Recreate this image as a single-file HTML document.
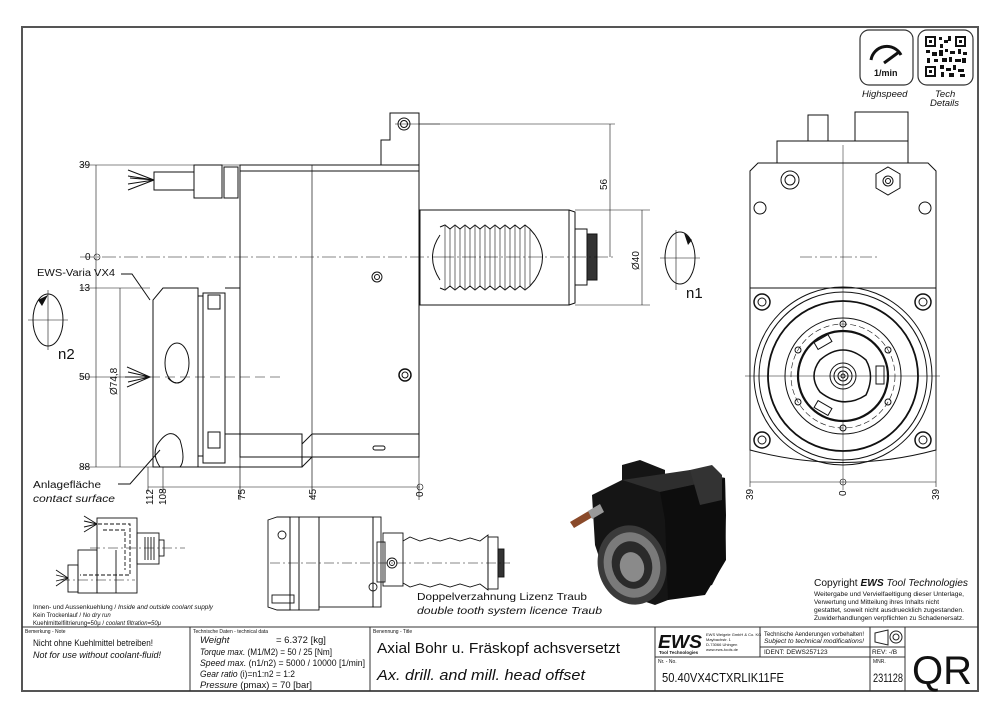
<!DOCTYPE html>
<html><head><meta charset="utf-8"><style>
html,body{margin:0;padding:0;background:#fff}
svg{display:block}
text{font-family:"Liberation Sans",sans-serif;fill:#111}
</style></head><body>
<svg width="1000" height="715" viewBox="0 0 1000 715" xmlns="http://www.w3.org/2000/svg">
<rect width="1000" height="715" fill="#fff"/>
<rect x="22" y="27" width="956" height="664" fill="none" stroke="#555" stroke-width="2"/>
<g stroke="#333" stroke-width="1" fill="none">
<line x1="22" y1="627" x2="978" y2="627"/>
<line x1="190" y1="627" x2="190" y2="691"/>
<line x1="370" y1="627" x2="370" y2="691"/>
<line x1="655" y1="627" x2="655" y2="691"/>
<line x1="760" y1="627" x2="760" y2="657"/>
<line x1="870" y1="627" x2="870" y2="691"/>
<line x1="905" y1="627" x2="905" y2="691"/>
<line x1="655" y1="657" x2="905" y2="657"/>
<line x1="760" y1="647" x2="905" y2="647"/>
</g>
<text x="25" y="633" font-size="5">Bemerkung - Note</text>
<text x="33" y="646" font-size="9" textLength="120" lengthAdjust="spacingAndGlyphs">Nicht ohne Kuehlmittel betreiben!</text>
<text x="33" y="658" font-size="9" font-style="italic" textLength="128" lengthAdjust="spacingAndGlyphs">Not for use without coolant-fluid!</text>
<text x="193" y="633" font-size="5">Technische Daten - technical data</text>
<g font-size="9.5">
<text x="200" y="643" font-style="italic">Weight</text><text x="276" y="643">= 6.372 [kg]</text>
<text x="200" y="655" textLength="132" lengthAdjust="spacingAndGlyphs"><tspan font-style="italic">Torque max.</tspan> (M1/M2) = 50 / 25 [Nm]</text>
<text x="200" y="666" textLength="165" lengthAdjust="spacingAndGlyphs"><tspan font-style="italic">Speed max.</tspan> (n1/n2) = 5000 / 10000 [1/min]</text>
<text x="200" y="677" textLength="95" lengthAdjust="spacingAndGlyphs"><tspan font-style="italic">Gear ratio</tspan> (i)=n1:n2 = 1:2</text>
<text x="200" y="688" textLength="112" lengthAdjust="spacingAndGlyphs"><tspan font-style="italic">Pressure</tspan>    (pmax) = 70 [bar]</text>
</g>
<text x="373" y="633" font-size="5">Benennung - Title</text>
<text x="377" y="653" font-size="15" textLength="243" lengthAdjust="spacingAndGlyphs">Axial Bohr u. Fräskopf achsversetzt</text>
<text x="377" y="680" font-size="15" font-style="italic" textLength="208" lengthAdjust="spacingAndGlyphs">Ax. drill. and mill. head offset</text>
<text x="658" y="663" font-size="5">Nr. - No.</text>
<text x="662" y="682" font-size="13" textLength="122" lengthAdjust="spacingAndGlyphs">50.40VX4CTXRLIK11FE</text>
<text x="873" y="663" font-size="5">MNR.</text>
<text x="873" y="682" font-size="12" textLength="30" lengthAdjust="spacingAndGlyphs">231128</text>
<text x="764" y="636" font-size="6.5" textLength="100" lengthAdjust="spacingAndGlyphs">Technische Aenderungen vorbehalten!</text>
<text x="764" y="643" font-size="6.5" font-style="italic" textLength="100" lengthAdjust="spacingAndGlyphs">Subject to technical modifications!</text>
<text x="764" y="654" font-size="6.5">IDENT:  DEWS257123</text>
<text x="872" y="654" font-size="6.5">REV: -/B</text>
<text x="658" y="648" font-size="18" font-weight="bold" font-style="italic" textLength="44" lengthAdjust="spacingAndGlyphs">EWS</text>
<text x="659" y="654" font-size="4.5" font-weight="bold">Tool Technologies</text>
<text x="706" y="636" font-size="4">EWS Weigele GmbH &amp; Co. KG</text>
<text x="706" y="641" font-size="4">Maybachstr. 1</text>
<text x="706" y="646" font-size="4">D-73066 Uhingen</text>
<text x="706" y="651" font-size="4">www.ews-tools.de</text>
<g stroke="#222" fill="none" stroke-width="1"><path d="M875 633 L888 630 L888 645 L875 642 Z"/><circle cx="896" cy="637" r="6"/><circle cx="896" cy="637" r="3"/></g>
<text x="912" y="684" font-size="40" textLength="60" lengthAdjust="spacingAndGlyphs">QR</text>

<rect x="860" y="30" width="53" height="55" rx="9" fill="none" stroke="#333" stroke-width="1.2"/>
<path d="M871 60 A16 16 0 0 1 901 55" fill="none" stroke="#111" stroke-width="3"/>
<path d="M884 63 L899 52" stroke="#111" stroke-width="3"/>
<text x="874" y="76" font-size="9" font-weight="bold">1/min</text>
<rect x="918" y="30" width="55" height="55" rx="9" fill="none" stroke="#333" stroke-width="1.2"/>
<g fill="#111">
<rect x="925" y="36" width="11" height="11"/><rect x="955" y="36" width="11" height="11"/><rect x="925" y="66" width="11" height="11"/>
<rect x="927" y="38" width="7" height="7" fill="#fff"/><rect x="957" y="38" width="7" height="7" fill="#fff"/><rect x="927" y="68" width="7" height="7" fill="#fff"/>
<rect x="929" y="40" width="3" height="3"/><rect x="959" y="40" width="3" height="3"/><rect x="929" y="70" width="3" height="3"/>
<rect x="939" y="37" width="3" height="3"/><rect x="944" y="40" width="4" height="3"/><rect x="940" y="44" width="3" height="4"/><rect x="948" y="36" width="3" height="5"/>
<rect x="926" y="50" width="4" height="3"/><rect x="932" y="52" width="5" height="4"/><rect x="939" y="50" width="4" height="6"/><rect x="945" y="49" width="3" height="3"/><rect x="950" y="51" width="5" height="3"/><rect x="958" y="49" width="3" height="5"/><rect x="963" y="52" width="4" height="3"/>
<rect x="927" y="58" width="3" height="5"/><rect x="934" y="59" width="4" height="3"/><rect x="942" y="58" width="5" height="4"/><rect x="949" y="57" width="3" height="5"/><rect x="955" y="59" width="6" height="3"/><rect x="962" y="58" width="4" height="5"/>
<rect x="940" y="65" width="4" height="4"/><rect x="946" y="68" width="5" height="3"/><rect x="953" y="65" width="3" height="5"/><rect x="958" y="69" width="6" height="3"/><rect x="941" y="72" width="3" height="5"/><rect x="949" y="73" width="5" height="4"/><rect x="960" y="74" width="5" height="3"/>
</g>
<text x="862" y="97" font-size="9.5" font-style="italic">Highspeed</text>
<text x="935" y="97" font-size="9.5" font-style="italic">Tech</text>
<text x="930" y="106" font-size="9.5" font-style="italic">Details</text>

<g stroke="#111" stroke-width="1" fill="none">
<line x1="80" y1="165" x2="240" y2="165" stroke-width="0.6"/>
<line x1="80" y1="257" x2="440" y2="257" stroke-width="0.6" stroke-dasharray="14 3 2 3"/>
<line x1="80" y1="288" x2="150" y2="288" stroke-width="0.6"/>
<line x1="80" y1="377" x2="125" y2="377" stroke-width="0.6"/>
<line x1="80" y1="467" x2="155" y2="467" stroke-width="0.6"/>
<line x1="96" y1="165" x2="96" y2="467" stroke-width="0.6"/>
<line x1="120" y1="288" x2="120" y2="467" stroke-width="0.6"/>
<circle cx="97" cy="257" r="3" stroke-width="0.6"/>
<path d="M381 165 L381 140 L390 140 L390 113 L419 113 L419 165"/>
<circle cx="404" cy="124" r="6"/><circle cx="404" cy="124" r="3.5"/>
<line x1="395" y1="124" x2="440" y2="124" stroke-width="0.5"/>
<line x1="419" y1="124" x2="615" y2="124" stroke-width="0.6"/>
<rect x="240" y="165" width="179" height="292"/>
<line x1="240" y1="171" x2="419" y2="171"/>
<line x1="312" y1="165" x2="312" y2="500" stroke-width="0.7"/>
<line x1="240" y1="165" x2="240" y2="500" stroke-width="0.7"/>
<line x1="419" y1="165" x2="419" y2="500" stroke-width="0.6"/>
<line x1="312" y1="434" x2="419" y2="434"/>
<rect x="373" y="446" width="12" height="4" rx="2"/>
<circle cx="377" cy="277" r="5"/><circle cx="377" cy="277" r="2.5"/>
<circle cx="405" cy="375" r="6" stroke-width="1.5"/><circle cx="405" cy="375" r="3"/>
<rect x="154" y="172" width="40" height="18"/>
<rect x="194" y="165" width="28" height="33"/>
<rect x="224" y="167" width="14" height="31"/>
<path d="M154 180 L128 170 M154 180 L128 176 M154 180 L128 184 M154 180 L128 190 M154 180 L130 178"/>
<path d="M153 467 L153 300 L163 288 L198 288 L198 467 Z"/>
<path d="M198 296 L203 296 L203 456 L198 456"/>
<rect x="203" y="293" width="22" height="170"/>
<rect x="208" y="295" width="12" height="14"/>
<rect x="208" y="432" width="12" height="16"/>
<path d="M225 288 L240 288 M225 434 L302 434 L302 467 L240 467 M302 467 L312 457"/>
<path d="M312 434 L302 444"/>
<line x1="153" y1="467" x2="302" y2="467"/>
<ellipse cx="177" cy="363" rx="12" ry="20"/>
<path d="M168 378 Q177 388 185 378"/>
<path d="M157 445 Q170 425 180 440 Q186 460 180 467 L160 467 Q152 455 157 445 Z"/>
<path d="M125 377 L150 377 M127 367 L150 377 L127 387 M128 372 L150 377 L128 382"/>
<line x1="150" y1="377" x2="285" y2="377" stroke-width="0.6" stroke-dasharray="10 5"/>
<path d="M121 274 L132 274 L150 300"/>
<path d="M118 484 L130 484 L160 450"/>
<line x1="148" y1="487" x2="420" y2="487" stroke-width="0.6"/>
<line x1="148" y1="467" x2="148" y2="492" stroke-width="0.6"/>
<line x1="163" y1="467" x2="163" y2="492" stroke-width="0.6"/>
<circle cx="420" cy="487" r="3" stroke-width="0.6"/>
<ellipse cx="48" cy="320" rx="15" ry="26"/>
<line x1="28" y1="320" x2="68" y2="320" stroke-width="0.6"/>
<line x1="48" y1="290" x2="48" y2="350" stroke-width="0.6"/>
<rect x="420" y="210" width="149" height="95"/>
<path d="M569 210 L575 212 L575 303 L569 305"/>
<path d="M440 235 Q425 257 440 280 M535 235 Q550 257 535 280"/>
<path d="M440 227 L445 225 L450 229 L455 225 L460 229 L465 225 L470 229 L475 225 L480 229 L485 225 L490 229 L495 225 L500 229 L505 225 L510 229 L515 225 L520 229 L525 225 L530 229 L535 235"/>
<path d="M440 288 L445 290 L450 286 L455 290 L460 286 L465 290 L470 286 L475 290 L480 286 L485 290 L490 286 L495 290 L500 286 L505 290 L510 286 L515 290 L520 286 L525 290 L530 286 L535 280"/>
<g stroke-width="0.6"><path d="M445 226 V289 M450 229 V286 M455 226 V289 M460 229 V286 M465 226 V289 M470 229 V286 M475 226 V289 M480 229 V286 M485 226 V289 M490 229 V286 M495 226 V289 M500 229 V286 M505 226 V289 M510 229 V286 M515 226 V289 M520 229 V286 M525 226 V289 M530 229 V286"/></g>
<rect x="575" y="229" width="12" height="56"/>
<rect x="587" y="234" width="10" height="46" fill="#333"/>
<line x1="440" y1="257" x2="615" y2="257" stroke-width="0.6" stroke-dasharray="14 3 2 3"/>
<line x1="610" y1="124" x2="610" y2="257" stroke-width="0.6"/>
<line x1="575" y1="210" x2="650" y2="210" stroke-width="0.6"/>
<line x1="575" y1="305" x2="650" y2="305" stroke-width="0.6"/>
<line x1="642" y1="210" x2="642" y2="305" stroke-width="0.6"/>
<ellipse cx="680" cy="258" rx="15" ry="26"/>
<line x1="660" y1="258" x2="700" y2="258" stroke-width="0.6"/>
<line x1="676" y1="230" x2="676" y2="290" stroke-width="0.6"/>
</g>
<path d="M38 300 L48 295 L42 306 Z" fill="#111"/>
<path d="M684 233 L692 240 L688 245 Z" fill="#111"/>
<g font-size="10">
<text x="79" y="168">39</text><text x="85" y="260">0</text><text x="79" y="291">13</text><text x="79" y="380">50</text><text x="79" y="470">88</text>
<text x="37" y="276" textLength="78" lengthAdjust="spacingAndGlyphs">EWS-Varia VX4</text>
<text x="33" y="488" textLength="68" lengthAdjust="spacingAndGlyphs">Anlagefläche</text>
<text x="33" y="502" font-style="italic" textLength="82" lengthAdjust="spacingAndGlyphs">contact surface</text>
<text transform="translate(117,395) rotate(-90)">Ø74,8</text>
<text transform="translate(153,505) rotate(-90)">112</text>
<text transform="translate(166,505) rotate(-90)">108</text>
<text transform="translate(245,500) rotate(-90)">75</text>
<text transform="translate(316,500) rotate(-90)">45</text>
<text transform="translate(423,497) rotate(-90)">0</text>
<text transform="translate(607,190) rotate(-90)">56</text>
<text transform="translate(639,270) rotate(-90)">Ø40</text>
</g>
<text x="58" y="359" font-size="15">n2</text>
<text x="686" y="298" font-size="15">n1</text>

<g stroke="#111" stroke-width="1" fill="none">
<rect x="808" y="115" width="20" height="26"/>
<rect x="855" y="112" width="53" height="29"/>
<rect x="777" y="141" width="131" height="22"/>
<path d="M750 450 L750 171 L758 163 L928 163 L936 171 L936 450 Q843 475 750 450 Z"/>
<line x1="750" y1="288" x2="936" y2="288"/>
<line x1="843" y1="145" x2="843" y2="490" stroke-width="0.5"/>
<line x1="800" y1="257" x2="880" y2="257" stroke-width="0.5" stroke-dasharray="12 3 2 3"/>
<line x1="745" y1="376" x2="940" y2="376" stroke-width="0.5"/>
<circle cx="790" cy="180" r="9"/><circle cx="790" cy="180" r="5"/>
<path d="M888 167 L900 174 L900 188 L888 195 L876 188 L876 174 Z"/><circle cx="888" cy="181" r="5"/><circle cx="888" cy="181" r="2.5"/>
<circle cx="760" cy="208" r="6"/><circle cx="925" cy="208" r="6"/>
<circle cx="762" cy="302" r="8" stroke-width="1.5"/><circle cx="762" cy="302" r="4"/>
<circle cx="923" cy="302" r="8" stroke-width="1.5"/><circle cx="923" cy="302" r="4"/>
<circle cx="762" cy="440" r="8" stroke-width="1.5"/><circle cx="762" cy="440" r="4"/>
<circle cx="923" cy="440" r="8" stroke-width="1.5"/><circle cx="923" cy="440" r="4"/>
<circle cx="843" cy="376" r="89"/>
<circle cx="843" cy="376" r="84"/>
<circle cx="843" cy="376" r="75" stroke-width="1.8"/>
<circle cx="843" cy="376" r="58"/>
<circle cx="843" cy="376" r="52" stroke-dasharray="6 3" stroke-width="0.6"/>
<circle cx="843" cy="376" r="45" stroke-width="2.2"/>
<path d="M820 360 Q843 340 866 360 Q875 376 866 395 Q843 410 820 392 Q808 376 820 360 Z" stroke-width="1.5"/>
<circle cx="843" cy="376" r="13"/><circle cx="843" cy="376" r="9"/><circle cx="843" cy="376" r="5"/><circle cx="843" cy="376" r="2"/>
<circle cx="843" cy="324" r="3"/><circle cx="843" cy="428" r="3"/>
<circle cx="798" cy="350" r="3"/><circle cx="888" cy="350" r="3"/><circle cx="798" cy="402" r="3"/><circle cx="888" cy="402" r="3"/>
<rect x="815" y="338" width="16" height="8" transform="rotate(-30 823 342)"/>
<rect x="815" y="404" width="16" height="8" transform="rotate(30 823 408)"/>
<rect x="876" y="366" width="8" height="18"/>
<line x1="750" y1="482" x2="936" y2="482" stroke-width="0.6"/>
<line x1="750" y1="450" x2="750" y2="487" stroke-width="0.6"/>
<line x1="936" y1="450" x2="936" y2="487" stroke-width="0.6"/>
<circle cx="843" cy="482" r="3" stroke-width="0.6"/>
</g>
<g font-size="10">
<text transform="translate(753,500) rotate(-90)">39</text>
<text transform="translate(846,496) rotate(-90)">0</text>
<text transform="translate(939,500) rotate(-90)">39</text>
</g>

<g stroke="#111" stroke-width="0.9" fill="none">
<rect x="97" y="518" width="40" height="75"/>
<rect x="78" y="550" width="19" height="43"/>
<rect x="68" y="565" width="10" height="27"/>
<rect x="137" y="533" width="22" height="31"/>
<rect x="159" y="540" width="5" height="16"/>
<line x1="116" y1="550" x2="116" y2="593"/>
<path d="M98 524 L130 524 L130 575 L80 575" stroke-dasharray="4 2"/>
<path d="M103 530 L125 530 L125 570" stroke-dasharray="4 2"/>
<line x1="90" y1="548" x2="185" y2="548" stroke-dasharray="10 3 2 3" stroke-width="0.6"/>
<line x1="60" y1="580" x2="135" y2="580" stroke-dasharray="10 3 2 3" stroke-width="0.6"/>
<path d="M97 524 L84 516 M97 524 L84 521 M97 524 L84 527 M97 524 L84 532"/>
<path d="M68 578 L56 570 M68 578 L56 575 M68 578 L56 581 M68 578 L56 586"/>
<path d="M145 537 V560 M148 537 V560 M151 537 V560 M154 537 V560"/>
</g>
<g font-size="6">
<text x="33" y="609" textLength="180" lengthAdjust="spacingAndGlyphs">Innen- und Aussenkuehlung / <tspan font-style="italic">Inside and outside coolant supply</tspan></text>
<text x="33" y="617">Kein Trockenlauf / <tspan font-style="italic">No dry run</tspan></text>
<text x="33" y="625" textLength="128" lengthAdjust="spacingAndGlyphs">Kuehlmittelfiltrierung=50μ / <tspan font-style="italic">coolant filtration=50μ</tspan></text>
</g>

<g stroke="#111" stroke-width="0.9" fill="none">
<path d="M268 520 L277 517 L290 517 L290 610 L277 610 L268 607 Z"/>
<rect x="290" y="517" width="9" height="93"/>
<rect x="299" y="517" width="20" height="93"/>
<rect x="319" y="517" width="54" height="90"/>
<rect x="373" y="517" width="8" height="90"/>
<rect x="383" y="533" width="20" height="53"/>
<rect x="377" y="542" width="8" height="40"/>
<circle cx="392" cy="563" r="5"/><circle cx="392" cy="563" r="2.5"/>
<circle cx="282" cy="535" r="4"/>
<circle cx="373" cy="587" r="4"/>
<rect x="272" y="595" width="22" height="8"/>
<path d="M403 541 L410 537 L420 541 L430 538 L440 541 L450 538 L460 541 L470 538 L480 541 L488 535 L488 590 L480 584 L470 587 L460 584 L450 587 L440 584 L430 587 L420 584 L410 587 L403 583"/>
<rect x="488" y="537" width="10" height="52"/>
<rect x="498" y="549" width="6" height="28" fill="#333"/>
<line x1="270" y1="563" x2="510" y2="563" stroke-dasharray="10 3 2 3" stroke-width="0.6"/>
</g>
<text x="417" y="600" font-size="10.5" textLength="170" lengthAdjust="spacingAndGlyphs">Doppelverzahnung Lizenz Traub</text>
<text x="417" y="614" font-size="10.5" font-style="italic" textLength="185" lengthAdjust="spacingAndGlyphs">double tooth system licence Traub</text>

<!-- 3D render -->
<g>
<path d="M592 495 L622 480 L622 465 L640 460 L665 470 L665 480 L690 470 L725 478 L726 515 L725 560 L712 585 L668 600 L655 605 L640 600 L605 575 L595 545 Z" fill="#151515"/>
<path d="M622 480 L690 470 L725 478 L660 492 Z" fill="#2e2e2e"/>
<path d="M660 492 L725 478 L726 560 L705 595 L668 600 L665 520 Z" fill="#0d0d0d"/>
<path d="M690 470 L712 465 L722 475 L722 500 L700 505 Z" fill="#333"/>
<ellipse cx="632" cy="565" rx="34" ry="40" fill="#3a3a3a" transform="rotate(-15 632 565)"/>
<ellipse cx="632" cy="565" rx="28" ry="33" fill="#7a7a7a" transform="rotate(-15 632 565)"/>
<ellipse cx="632" cy="565" rx="20" ry="24" fill="#2a2a2a" transform="rotate(-15 632 565)"/>
<ellipse cx="632" cy="567" rx="12" ry="15" fill="#8a8a8a" transform="rotate(-15 632 567)"/>
<path d="M570 522 L592 509 L596 515 L574 528 Z" fill="#8a4a2a"/>
<path d="M588 511 L600 504 L604 512 L592 519 Z" fill="#999"/>
</g>

<text x="814" y="586" font-size="10" textLength="154" lengthAdjust="spacingAndGlyphs">Copyright <tspan font-weight="bold" font-style="italic">EWS</tspan> <tspan font-style="italic">Tool Technologies</tspan></text>
<g font-size="6.5">
<text x="814" y="596" textLength="150" lengthAdjust="spacingAndGlyphs">Weitergabe und Vervielfaeltigung dieser Unterlage,</text>
<text x="814" y="604" textLength="125" lengthAdjust="spacingAndGlyphs">Verwertung und Mitteilung ihres Inhalts nicht</text>
<text x="814" y="612" textLength="150" lengthAdjust="spacingAndGlyphs">gestattet, soweit nicht ausdruecklich zugestanden.</text>
<text x="814" y="620" textLength="150" lengthAdjust="spacingAndGlyphs">Zuwiderhandlungen verpflichten zu Schadenersatz.</text>
</g>
</svg>
</body></html>
